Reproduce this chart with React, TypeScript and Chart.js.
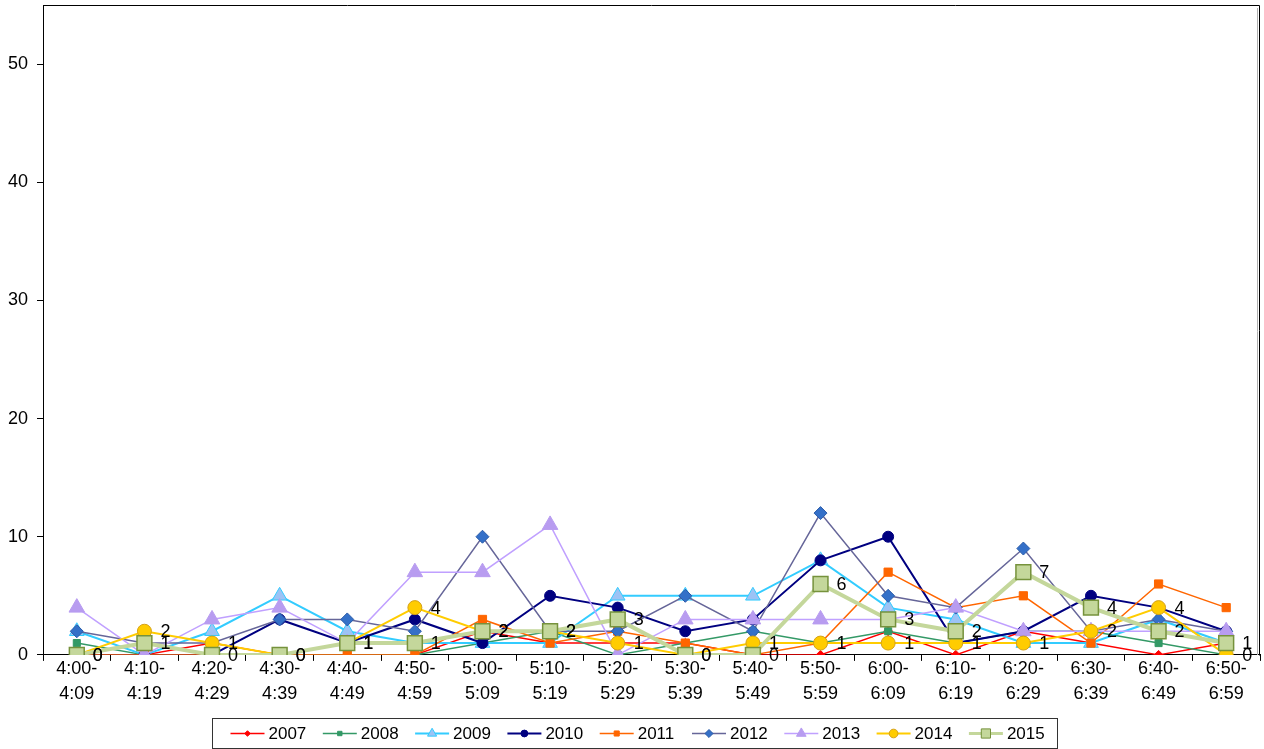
import React, { useEffect, useRef } from 'react';
import { Chart, registerables, PointElement } from 'chart.js';

Chart.register(...registerables);

// Ten-minute time slots on the x axis (two-line labels)
const slotStarts = ['4:00-', '4:10-', '4:20-', '4:30-', '4:40-', '4:50-', '5:00-', '5:10-', '5:20-', '5:30-', '5:40-', '5:50-', '6:00-', '6:10-', '6:20-', '6:30-', '6:40-', '6:50-'];
const slotEnds = ['4:09', '4:19', '4:29', '4:39', '4:49', '4:59', '5:09', '5:19', '5:29', '5:39', '5:49', '5:59', '6:09', '6:19', '6:29', '6:39', '6:49', '6:59'];

const years = ['2007', '2008', '2009', '2010', '2011', '2012', '2013', '2014', '2015'];

// Counts per slot, one array per year
const y2007 = [0, 0, 1, 0, 0, 0, 2, 1, 1, 1, 0, 0, 2, 0, 2, 1, 0, 1];
const y2008 = [1, 0, 0, 0, 0, 0, 1, 2, 0, 1, 2, 1, 2, 1, 2, 2, 1, 0];
const y2009 = [2, 0, 2, 5, 2, 1, 1, 1, 5, 5, 5, 8, 4, 3, 1, 1, 3, 1];
const y2010 = [0, 0, 0, 3, 1, 3, 1, 5, 4, 2, 3, 8, 10, 1, 2, 5, 4, 2];
const y2011 = [0, 0, 0, 0, 0, 0, 3, 1, 2, 1, 0, 1, 7, 4, 5, 1, 6, 4];
const y2012 = [2, 1, 1, 3, 3, 2, 10, 2, 2, 5, 2, 12, 5, 4, 9, 2, 3, 2];
const y2013 = [4, 0, 3, 4, 1, 7, 7, 11, 0, 3, 3, 3, 3, 4, 2, 2, 2, 2];
const y2014 = [0, 2, 1, 0, 1, 4, 2, 2, 1, 0, 1, 1, 1, 1, 1, 2, 4, 0];
const y2015 = [0, 1, 0, 0, 1, 1, 2, 2, 3, 0, 0, 6, 3, 2, 7, 4, 2, 1];

const yTicks = [0, 10, 20, 30, 40, 50];
const yMax = 55;

const seriesValues = [y2007, y2008, y2009, y2010, y2011, y2012, y2013, y2014, y2015];

// Visual style for each year's line and markers
const seriesStyles = [
  { line: '#FF0000', fill: '#FF0000', edge: '#FF0000', shape: 'rectRot', r: 4.5, lw: 1.5, labels: false },
  { line: '#339966', fill: '#339966', edge: '#339966', shape: 'rect', r: 5, lw: 1.5, labels: false },
  { line: '#33CCFF', fill: '#9CC3F5', edge: '#33CCFF', shape: 'triangle', r: 8.5, lw: 2, labels: false },
  { line: '#000080', fill: '#000080', edge: '#000080', shape: 'circle', r: 5.5, lw: 2, labels: false },
  { line: '#FF6600', fill: '#FF6600', edge: '#FF6600', shape: 'rect', r: 5.8, lw: 1.5, labels: false },
  { line: '#666699', fill: '#3470C8', edge: '#2A5BA8', shape: 'rectRot', r: 6.5, lw: 1.5, labels: false },
  { line: '#C0A0FF', fill: '#B89CF0', edge: '#B89CF0', shape: 'triangle', r: 9, lw: 1.5, labels: false },
  { line: '#FFCC00', fill: '#FFCC00', edge: '#D4A017', shape: 'circle', r: 7, lw: 2, labels: true },
  { line: '#C4D79B', fill: '#C4D79B', edge: '#76923C', shape: 'rect', r: 10.5, lw: 4, labels: true },
];

const FONT = '"Liberation Sans", Arial, sans-serif';

// Value labels to the right of the points of selected series
const valueLabels = {
  id: 'valueLabels',
  afterDatasetsDraw(chart: any) {
    const ctx = chart.ctx;
    ctx.save();
    ctx.font = `18px ${FONT}`;
    ctx.fillStyle = '#000';
    ctx.textAlign = 'left';
    ctx.textBaseline = 'middle';
    chart.data.datasets.forEach((ds: any, i: number) => {
      if (!ds.showValues) return;
      const meta = chart.getDatasetMeta(i);
      meta.data.forEach((pt: any, j: number) => {
        ctx.fillText(String(ds.data[j]), pt.x + 16, pt.y + 1);
      });
    });
    ctx.restore();
  },
};

// Frame round the plot area and the boxed legend underneath
const frameAndLegend = {
  id: 'frameAndLegend',
  afterDraw(chart: any) {
    const ctx = chart.ctx;
    const a = chart.chartArea;
    ctx.save();
    ctx.strokeStyle = '#000';
    ctx.lineWidth = 1;
    ctx.beginPath();
    ctx.moveTo(Math.round(a.left) + 0.5, Math.round(a.top) + 0.5);
    ctx.lineTo(Math.round(a.right) - 0.5, Math.round(a.top) + 0.5);
    ctx.lineTo(Math.round(a.right) - 0.5, Math.round(a.bottom) + 0.5);
    ctx.stroke();
    ctx.strokeStyle = '#B0B0B0';
    ctx.beginPath();
    ctx.moveTo(Math.round(a.right) - 2.5, Math.round(a.top) + 3);
    ctx.lineTo(Math.round(a.right) - 2.5, Math.round(a.bottom));
    ctx.stroke();

    // legend box
    const boxW = 845;
    const boxH = 30;
    const boxL = Math.round(chart.width / 2 + 2.5 - boxW / 2);
    const boxT = chart.height - boxH - 1;
    ctx.strokeStyle = '#333';
    ctx.strokeRect(boxL + 0.5, boxT + 0.5, boxW, boxH);

    const pitch = 92.3;
    const cy = boxT + boxH / 2 + 0.5;
    ctx.font = `17px ${FONT}`;
    ctx.fillStyle = '#000';
    ctx.textAlign = 'left';
    ctx.textBaseline = 'middle';
    chart.data.datasets.forEach((ds: any, i: number) => {
      const st = seriesStyles[i];
      const x0 = boxL + 18.5 + i * pitch;
      ctx.strokeStyle = st.line;
      ctx.lineWidth = Math.min(st.lw, 3);
      ctx.beginPath();
      ctx.moveTo(x0, cy);
      ctx.lineTo(x0 + 34, cy);
      ctx.stroke();
      const pe: any = new PointElement({
        x: x0 + 17,
        y: cy,
        options: {
          pointStyle: st.shape,
          radius: st.r * 0.62,
          rotation: 0,
          borderWidth: 1,
          backgroundColor: st.fill,
          borderColor: st.edge,
          hitRadius: 0,
        },
      } as any);
      pe.draw(ctx);
      ctx.fillStyle = '#000';
      ctx.fillText(ds.label, x0 + 38, cy + 1);
    });
    ctx.restore();
  },
};

export default function App() {
  const canvasRef = useRef<HTMLCanvasElement | null>(null);

  useEffect(() => {
    if (!canvasRef.current) return;
    const labels = slotStarts.map((s, i) => [s, slotEnds[i]]);
    const datasets = years.map((yr, i) => {
      const st = seriesStyles[i];
      return {
        label: yr,
        data: seriesValues[i],
        borderColor: st.line,
        borderWidth: st.lw,
        backgroundColor: st.fill,
        pointBackgroundColor: st.fill,
        pointBorderColor: st.edge,
        pointBorderWidth: st.shape === 'rect' && st.labels ? 1.5 : 1,
        pointStyle: st.shape,
        pointRadius: st.r,
        pointHoverRadius: st.r,
        tension: 0,
        fill: false,
        order: years.length - 1 - i,
        showValues: st.labels,
      };
    });

    const chart = new Chart(canvasRef.current, {
      type: 'line',
      data: { labels, datasets } as any,
      options: {
        animation: false,
        responsive: true,
        maintainAspectRatio: false,
        layout: { autoPadding: false, padding: { left: 0, top: 5, right: 4, bottom: 47 } },
        plugins: { legend: { display: false }, tooltip: { enabled: false } },
        scales: {
          x: {
            offset: true,
            grid: { offset: true, drawOnChartArea: false, drawTicks: true, tickLength: 6, color: '#000' },
            border: { display: true, color: '#000' },
            ticks: {
              color: '#000',
              font: { family: FONT, size: 18, lineHeight: 1.42 } as any,
              padding: -5,
              maxRotation: 0,
              autoSkip: false,
            },
            afterFit(scale: any) {
              scale.paddingLeft = 0;
              scale.paddingRight = 0;
            },
          },
          y: {
            min: 0,
            max: yMax,
            grid: { drawOnChartArea: false, drawTicks: true, tickLength: 6, color: '#000' },
            border: { display: true, color: '#000' },
            ticks: {
              stepSize: 10,
              color: '#000',
              padding: 9,
              font: { family: FONT, size: 18 },
            },
            afterBuildTicks(scale: any) {
              scale.ticks = yTicks.map((v) => ({ value: v }));
            },
            afterFit(scale: any) {
              scale.width = 43;
              scale.paddingTop = 0;
              scale.paddingBottom = 0;
            },
          },
        },
      } as any,
      plugins: [valueLabels, frameAndLegend],
    });
    return () => chart.destroy();
  }, []);

  return (
    <div style={{ position: 'fixed', left: 0, top: 0, width: 1264, height: 749, background: '#fff' }}>
      <canvas ref={canvasRef} />
    </div>
  );
}
